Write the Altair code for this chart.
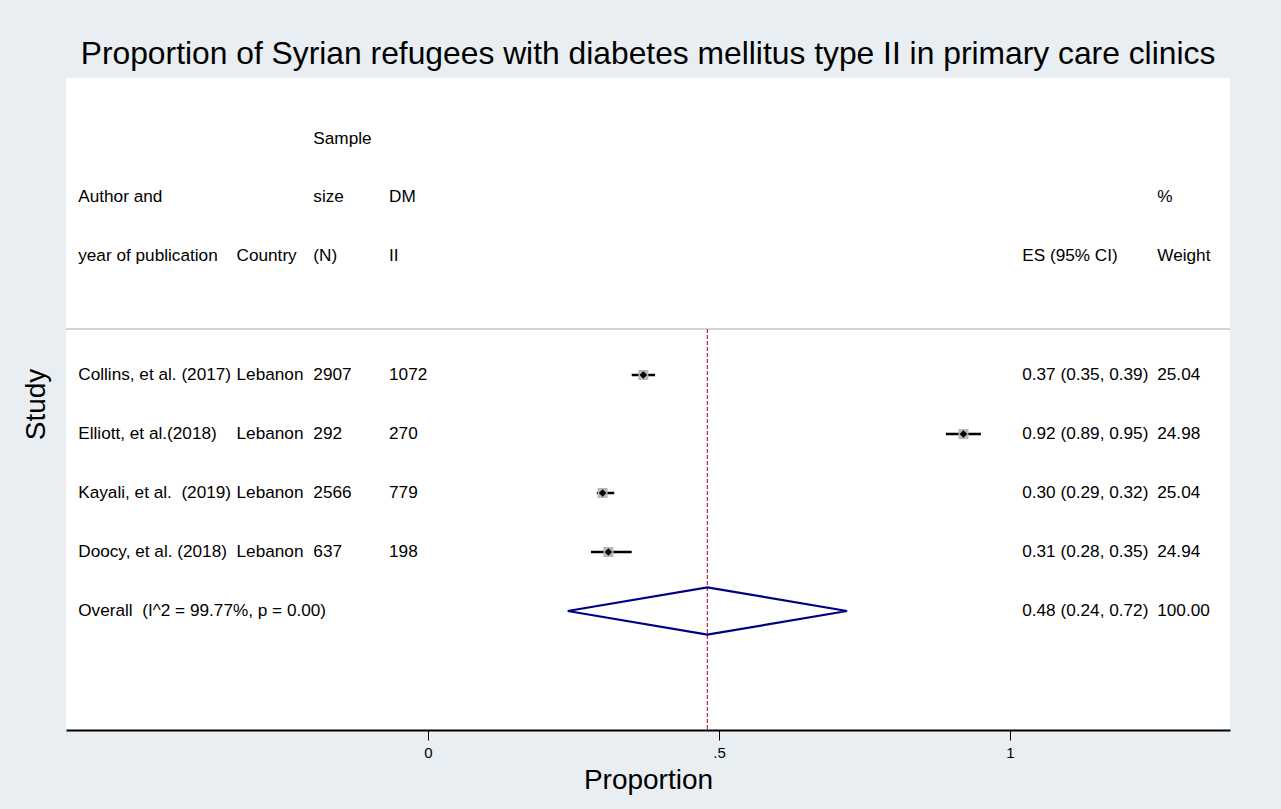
import altair as alt
import pandas as pd

# ---- study data -------------------------------------------------------------
authors = ["Collins, et al. (2017)", "Elliott, et al.(2018)",
           "Kayali, et al. \u00a0(2019)", "Doocy, et al. (2018)"]
countries = ["Lebanon", "Lebanon", "Lebanon", "Lebanon"]
sample_n = [2907, 292, 2566, 637]
dm_cases = [1072, 270, 779, 198]
es = [0.37, 0.92, 0.30, 0.31]
ci_low = [0.35, 0.89, 0.29, 0.28]
ci_high = [0.39, 0.95, 0.32, 0.35]
weights = [25.04, 24.98, 25.04, 24.94]

# pooled estimate
overall_label = "Overall \u00a0(I^2 = 99.77%, p = 0.00)"
overall_es = 0.48
overall_low = 0.24
overall_high = 0.72
overall_weight = 100.00

# axis ticks
tick_values = [0, 0.5, 1]

# ---- layout (in scale units) -----------------------------------------------
X_DOMAIN = [-0.622, 1.378]
Y_DOMAIN = [-4.034, 7.017]
COL = {"author": -0.601, "country": -0.329, "n": -0.197, "dm": -0.067,
       "es": 1.021, "weight": 1.253}
HEAD_ROWS = [-3.0, -2.017, -1.017]
SEP_ROW = 0.22

FONT = "Liberation Sans"
BG = "#e8eef1"

n_studies = len(authors)
study_rows = list(range(1, n_studies + 1))
overall_row = n_studies + 1

studies = pd.DataFrame({
    "row": study_rows, "es": es, "lo": ci_low, "hi": ci_high, "w": weights,
})

# text table
cells = []
def cell(text, col, row):
    cells.append({"text": text, "col": COL[col], "row": row})

cell("Sample", "n", HEAD_ROWS[0])
cell("Author and", "author", HEAD_ROWS[1])
cell("size", "n", HEAD_ROWS[1])
cell("DM", "dm", HEAD_ROWS[1])
cell("%", "weight", HEAD_ROWS[1])
cell("year of publication", "author", HEAD_ROWS[2])
cell("Country", "country", HEAD_ROWS[2])
cell("(N)", "n", HEAD_ROWS[2])
cell("II", "dm", HEAD_ROWS[2])
cell("ES (95% CI)", "es", HEAD_ROWS[2])
cell("Weight", "weight", HEAD_ROWS[2])
for i, r in enumerate(study_rows):
    cell(authors[i], "author", r)
    cell(countries[i], "country", r)
    cell(str(sample_n[i]), "n", r)
    cell(str(dm_cases[i]), "dm", r)
    cell(f"{es[i]:.2f} ({ci_low[i]:.2f}, {ci_high[i]:.2f})", "es", r)
    cell(f"{weights[i]:.2f}", "weight", r)
cell(overall_label, "author", overall_row)
cell(f"{overall_es:.2f} ({overall_low:.2f}, {overall_high:.2f})", "es", overall_row)
cell(f"{overall_weight:.2f}", "weight", overall_row)
table = pd.DataFrame(cells)

# pooled-estimate diamond outline
half_h = 0.4
diamond = pd.DataFrame({
    "x": [overall_low, overall_es, overall_high, overall_es, overall_low],
    "y": [overall_row, overall_row - half_h, overall_row,
          overall_row + half_h, overall_row],
    "order": [0, 1, 2, 3, 4],
})

sep = pd.DataFrame({"y": [SEP_ROW]})
ref = pd.DataFrame({"x": [overall_es], "y": [SEP_ROW], "y2": [Y_DOMAIN[1]]})


def X(field):
    return alt.X(
        f"{field}:Q",
        scale=alt.Scale(domain=X_DOMAIN, nice=False, zero=False),
        axis=alt.Axis(
            title="Proportion", values=tick_values,
            labelExpr="datum.value == 0.5 ? '.5' : format(datum.value, 'd')",
            grid=False, domainColor="black", domainWidth=2,
            tickColor="black", tickWidth=1, tickSize=10,
            labelFont=FONT, labelFontSize=15, labelColor="black",
            labelPadding=5, titleFont=FONT, titleFontSize=28,
            titleFontWeight="normal", titleColor="black", titlePadding=6,
        ),
    )


def Y(field):
    return alt.Y(
        f"{field}:Q",
        scale=alt.Scale(domain=Y_DOMAIN, reverse=True, nice=False, zero=False),
        axis=alt.Axis(
            title="Study", labels=False, ticks=False, domain=False, grid=False,
            titleFont=FONT, titleFontSize=28, titleFontWeight="normal",
            titleColor="black", titlePadding=16,
        ),
    )


separator = alt.Chart(sep).mark_rule(color="#c4c4c4", strokeWidth=1.5).encode(
    y=Y("y"))

ref_line = alt.Chart(ref).mark_rule(
    color="#b03040", strokeWidth=1.2, strokeDash=[4, 2]
).encode(x=X("x"), y=Y("y"), y2="y2:Q")

ci = alt.Chart(studies).mark_rule(color="black", strokeWidth=2.5).encode(
    x=X("lo"), x2="hi:Q", y=Y("row"))

boxes = alt.Chart(studies).mark_square(
    color="#b8b8b8", opacity=1, size=100
).encode(x=X("es"), y=Y("row"))

points = alt.Chart(studies).mark_point(
    shape="diamond", filled=True, color="black", opacity=1, size=58
).encode(x=X("es"), y=Y("row"))

pooled = alt.Chart(diamond).mark_line(
    color="#000080", strokeWidth=2.2
).encode(x=X("x"), y=Y("y"), order="order:Q")

texts = alt.Chart(table).mark_text(
    align="left", baseline="middle", font=FONT, fontSize=17.2, color="black"
).encode(x=X("col"), y=Y("row"), text="text:N")

chart = alt.layer(
    separator, ref_line, ci, boxes, points, pooled, texts
).properties(
    width=1164,
    height=652,
    autosize=alt.AutoSizeParams(type="none"),
    padding={"left": 66, "top": 78, "right": 51, "bottom": 79},
    background=BG,
    title=alt.TitleParams(
        "Proportion of Syrian refugees with diabetes mellitus type II in primary care clinics",
        font=FONT, fontSize=31.8, fontWeight="normal", color="black",
        anchor="middle", offset=7,
    ),
).configure_view(fill="white", stroke=None)

chart.save("out.html", embed_options={"renderer": "svg", "actions": False})
